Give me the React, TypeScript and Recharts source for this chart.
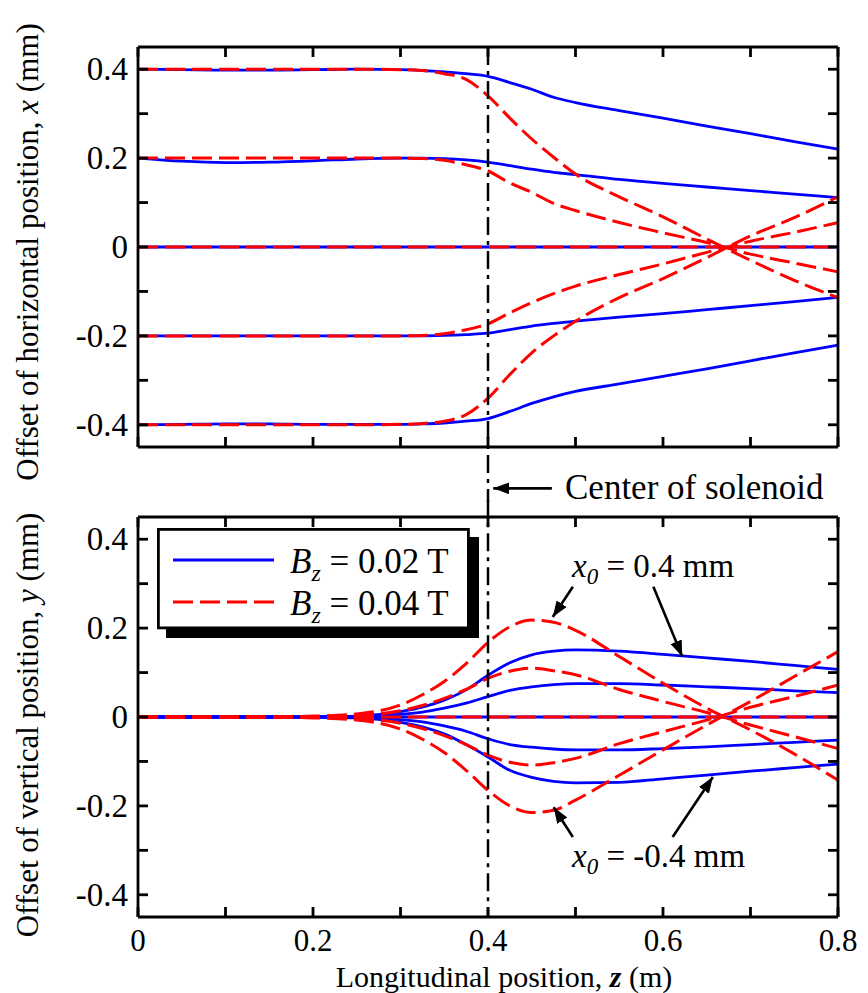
import React from 'react';
import { LineChart, Line, XAxis, YAxis, ReferenceLine, ReferenceDot, Legend } from 'recharts';

// Longitudinal position z (m)
const zPos = [0, 0.05, 0.1, 0.15, 0.2, 0.25, 0.3, 0.325, 0.35, 0.375, 0.4, 0.425, 0.45, 0.475, 0.5, 0.55, 0.6, 0.65, 0.7, 0.75, 0.8];

// Top panel: horizontal offset x (mm), Bz = 0.02 T
const xB02_p04 = [0.4, 0.399, 0.398, 0.398, 0.399, 0.4, 0.399, 0.397, 0.394, 0.39, 0.384, 0.37, 0.355, 0.337, 0.325, 0.307, 0.29, 0.272, 0.255, 0.237, 0.22];
const xB02_p02 = [0.2, 0.193, 0.19, 0.191, 0.194, 0.198, 0.2, 0.2, 0.199, 0.196, 0.191, 0.183, 0.175, 0.168, 0.163, 0.152, 0.143, 0.135, 0.127, 0.119, 0.111];
const xB02_z0 = [0, 0, 0, 0, 0, 0, 0, 0, 0, 0, 0, 0, 0, 0, 0, 0, 0, 0, 0, 0, 0];
const xB02_m02 = [-0.2, -0.2, -0.2, -0.2, -0.2, -0.2, -0.2, -0.2, -0.199, -0.197, -0.194, -0.186, -0.178, -0.172, -0.167, -0.158, -0.15, -0.141, -0.132, -0.123, -0.113];
const xB02_m04 = [-0.4, -0.399, -0.398, -0.398, -0.399, -0.399, -0.399, -0.398, -0.396, -0.392, -0.386, -0.37, -0.352, -0.337, -0.325, -0.308, -0.291, -0.274, -0.256, -0.238, -0.221];

// Top panel: horizontal offset x (mm), Bz = 0.04 T
const xB04_p04 = [0.4, 0.4, 0.4, 0.4, 0.4, 0.4, 0.399, 0.397, 0.39, 0.377, 0.34, 0.29, 0.243, 0.202, 0.164, 0.113, 0.068, 0.018, -0.03, -0.075, -0.114];
const xB04_p02 = [0.2, 0.2, 0.2, 0.2, 0.2, 0.2, 0.2, 0.199, 0.195, 0.185, 0.171, 0.144, 0.123, 0.098, 0.082, 0.055, 0.032, 0.01, -0.016, -0.036, -0.056];
const xB04_z0 = [0, 0, 0, 0, 0, 0, 0, 0, 0, 0, 0, 0, 0, 0, 0, 0, 0, 0, 0, 0, 0];
const xB04_m02 = [-0.2, -0.2, -0.2, -0.2, -0.2, -0.2, -0.2, -0.199, -0.195, -0.186, -0.173, -0.148, -0.125, -0.105, -0.088, -0.062, -0.038, -0.012, 0.013, 0.033, 0.055];
const xB04_m04 = [-0.4, -0.4, -0.4, -0.4, -0.4, -0.4, -0.399, -0.397, -0.392, -0.377, -0.34, -0.287, -0.238, -0.2, -0.167, -0.114, -0.071, -0.024, 0.025, 0.066, 0.113];

// Bottom panel: vertical offset y (mm), Bz = 0.02 T
const yB02_p04 = [0, 0, 0, 0, 0.0005, 0.002, 0.012, 0.022, 0.038, 0.061, 0.094, 0.122, 0.14, 0.148, 0.151, 0.148, 0.141, 0.133, 0.125, 0.116, 0.107];
const yB02_p02 = [0, 0, 0, 0, 0.0003, 0.001, 0.006, 0.011, 0.02, 0.031, 0.046, 0.06, 0.068, 0.073, 0.075, 0.075, 0.072, 0.068, 0.064, 0.059, 0.055];
const yB02_z0 = [0, 0, 0, 0, 0, 0, 0, 0, 0, 0, 0, 0, 0, 0, 0, 0, 0, 0, 0, 0, 0];
const yB02_m02 = [0, 0, 0, 0, -0.0003, -0.001, -0.006, -0.011, -0.02, -0.032, -0.049, -0.062, -0.068, -0.072, -0.074, -0.074, -0.071, -0.067, -0.062, -0.057, -0.052];
const yB02_m04 = [0, 0, 0, 0, -0.0005, -0.002, -0.012, -0.022, -0.038, -0.062, -0.09, -0.12, -0.136, -0.145, -0.148, -0.147, -0.139, -0.131, -0.122, -0.114, -0.106];

// Bottom panel: vertical offset y (mm), Bz = 0.04 T
const yB04_p04 = [0, 0, 0, 0.0005, 0.002, 0.007, 0.027, 0.05, 0.08, 0.12, 0.168, 0.203, 0.218, 0.213, 0.195, 0.136, 0.076, 0.02, -0.029, -0.083, -0.142];
const yB04_p02 = [0, 0, 0, 0.0003, 0.001, 0.0035, 0.014, 0.026, 0.042, 0.062, 0.087, 0.103, 0.11, 0.104, 0.095, 0.062, 0.035, 0.01, -0.018, -0.044, -0.071];
const yB04_z0 = [0, 0, 0, 0, 0, 0, 0, 0, 0, 0, 0, 0, 0, 0, 0, 0, 0, 0, 0, 0, 0];
const yB04_m02 = [0, 0, 0, -0.0003, -0.001, -0.0035, -0.014, -0.026, -0.042, -0.062, -0.086, -0.102, -0.108, -0.103, -0.093, -0.06, -0.033, -0.007, 0.022, 0.046, 0.072];
const yB04_m04 = [0, 0, 0, -0.0005, -0.002, -0.007, -0.027, -0.05, -0.08, -0.12, -0.165, -0.2, -0.215, -0.21, -0.187, -0.131, -0.074, -0.018, 0.035, 0.091, 0.147];

// Ticks
const xTicks = [0, 0.1, 0.2, 0.3, 0.4, 0.5, 0.6, 0.7, 0.8];
const xTickLabels = ['0', '', '0.2', '', '0.4', '', '0.6', '', '0.8'];
const yTicks = [-0.4, -0.3, -0.2, -0.1, 0, 0.1, 0.2, 0.3, 0.4];
const yTickLabels = ['-0.4', '', '-0.2', '', '0', '', '0.2', '', '0.4'];
const yDomain = [-0.45, 0.45];
const solenoidCenter = 0.4;

// Legend entries
const legendFields = ['0.02', '0.04'];

// Annotations (data units)
const x0Labels = [
  { z: 0.496, v: 0.3155, text: '0.4' },
  { z: 0.496, v: -0.338, text: '-0.4' },
];
const x0Arrows = [
  { z1: 0.497, v1: 0.293, z2: 0.474, v2: 0.225 },
  { z1: 0.589, v1: 0.293, z2: 0.622, v2: 0.136 },
  { z1: 0.497, v1: -0.27, z2: 0.475, v2: -0.203 },
  { z1: 0.611, v1: -0.27, z2: 0.657, v2: -0.135 },
];

const keys = ['p04', 'p02', 'z0', 'm02', 'm04'];
const topBlue = [xB02_p04, xB02_p02, xB02_z0, xB02_m02, xB02_m04];
const topRed = [xB04_p04, xB04_p02, xB04_z0, xB04_m02, xB04_m04];
const botBlue = [yB02_p04, yB02_p02, yB02_z0, yB02_m02, yB02_m04];
const botRed = [yB04_p04, yB04_p02, yB04_z0, yB04_m02, yB04_m04];

const buildRows = (blue: number[][], red: number[][]) =>
  zPos.map((z, i) => {
    const row: any = { z };
    keys.forEach((k, j) => {
      row['b_' + k] = blue[j][i];
      row['r_' + k] = red[j][i];
    });
    return row;
  });

const topData = buildRows(topBlue, topRed);
const botData = buildRows(botBlue, botRed);

const FONT = "'Liberation Serif', 'Times New Roman', serif";
const BLUE = '#0000ff';
const RED = '#ff0000';
const DASH = '20 7';
const TICK = 10;
const AX = 2.8;

const idxOf = (arr: number[], v: number) => arr.findIndex((t) => Math.abs(t - v) < 1e-6);

const BottomTick = (p: any) => {
  const i = idxOf(xTicks, p.payload.value);
  const label = p.showLabels ? xTickLabels[i] : '';
  return (
    <g>
      <line x1={p.x} x2={p.x} y1={p.y} y2={p.y - TICK} stroke="#000" strokeWidth={AX} />
      {label ? (
        <text x={p.x} y={p.y + 34} textAnchor="middle" fontFamily={FONT} fontSize={31} fill="#000">
          {label}
        </text>
      ) : null}
    </g>
  );
};
const TopTick = (p: any) => (
  <line x1={p.x} x2={p.x} y1={p.y} y2={p.y + TICK} stroke="#000" strokeWidth={AX} />
);
const LeftTick = (p: any) => {
  const i = idxOf(yTicks, p.payload.value);
  const label = yTickLabels[i];
  return (
    <g>
      <line x1={p.x} x2={p.x + TICK} y1={p.y} y2={p.y} stroke="#000" strokeWidth={AX} />
      {label ? (
        <text x={p.x - 10} y={p.y} dy="0.34em" textAnchor="end" fontFamily={FONT} fontSize={33} fill="#000">
          {label}
        </text>
      ) : null}
    </g>
  );
};
const RightTick = (p: any) => (
  <line x1={p.x} x2={p.x - TICK} y1={p.y} y2={p.y} stroke="#000" strokeWidth={AX} />
);

const YTitle = (props: any) => (
  <text
    transform={`translate(38,${props.cyPos}) rotate(-90)`}
    textAnchor="middle"
    fontFamily={FONT}
    fontSize={31}
    fill="#000"
  >
    {props.lead}
    <tspan fontStyle="italic">{props.sym}</tspan>
    {' (mm)'}
  </text>
);

const XTitle = () => (
  <text x={504} y={487} textAnchor="middle" fontFamily={FONT} fontSize={30} fill="#000">
    {'Longitudinal position, '}
    <tspan fontStyle="italic" fontWeight="bold">z</tspan>
    {' (m)'}
  </text>
);

const ArrowShape = (p: any) => (
  <line x1={p.x1} y1={p.y1} x2={p.x2} y2={p.y2} stroke="#000" strokeWidth={2.6} markerEnd="url(#arrowHead)" />
);

const X0Text = (text: string) => (p: any) => (
  <text x={p.cx} y={p.cy} fontFamily={FONT} fontSize={33} fill="#000" style={{ whiteSpace: 'pre' }}>
    <tspan fontStyle="italic">x</tspan>
    <tspan fontStyle="italic" fontSize={23} dy={7}>0</tspan>
    <tspan dy={-7}>{` = ${text} mm`}</tspan>
  </text>
);

const SolenoidText = (p: any) => (
  <text x={p.cx} y={p.cy} fontFamily={FONT} fontSize={35} fill="#000">
    Center of solenoid
  </text>
);

const LegendBox = () => (
  <svg width={325} height={113} style={{ display: 'block' }}>
    <rect x={9} y={9} width={313} height={101} fill="#000" />
    <rect x={1.4} y={1.4} width={310} height={98.5} fill="#fff" stroke="#000" strokeWidth={2.8} />
    {legendFields.map((f, i) => {
      const ly = 32 + i * 42;
      return (
        <g key={f}>
          <line
            x1={16}
            x2={117}
            y1={ly}
            y2={ly}
            stroke={i === 0 ? BLUE : RED}
            strokeWidth={3}
            strokeDasharray={i === 0 ? undefined : DASH}
          />
          <text x={133} y={ly + 12.5} fontFamily={FONT} fontSize={35} fill="#000" style={{ whiteSpace: 'pre' }}>
            <tspan fontStyle="italic">B</tspan>
            <tspan fontStyle="italic" fontSize={24} dy={8}>z</tspan>
            <tspan dy={-8}>{` = ${f} T`}</tspan>
          </text>
        </g>
      );
    })}
  </svg>
);

const renderSeries = () => [
  ...keys.map((k) => (
    <Line
      key={'b_' + k}
      dataKey={'b_' + k}
      name="Bz = 0.02 T"
      type="monotone"
      stroke={BLUE}
      strokeWidth={2.8}
      dot={false}
      activeDot={false}
      isAnimationActive={false}
    />
  )),
  ...keys.map((k) => (
    <Line
      key={'r_' + k}
      dataKey={'r_' + k}
      name="Bz = 0.04 T"
      type="monotone"
      stroke={RED}
      strokeWidth={3}
      strokeDasharray={DASH}
      dot={false}
      activeDot={false}
      isAnimationActive={false}
    />
  )),
];

const axes = (showXLabels: boolean, yTitle: React.ReactElement, xTitle?: React.ReactElement) => [
  <XAxis
    key="xb"
    dataKey="z"
    type="number"
    domain={[0, 0.8]}
    ticks={xTicks}
    interval={0}
    height={1}
    tickSize={0}
    tickMargin={0}
    tickLine={false}
    axisLine={{ stroke: '#000', strokeWidth: AX }}
    tick={(p: any) => <BottomTick {...p} showLabels={showXLabels} />}
    label={xTitle}
  />,
  <XAxis
    key="xt"
    xAxisId="top"
    orientation="top"
    dataKey="z"
    type="number"
    domain={[0, 0.8]}
    ticks={xTicks}
    interval={0}
    height={1}
    tickSize={0}
    tickMargin={0}
    tickLine={false}
    axisLine={{ stroke: '#000', strokeWidth: AX }}
    tick={(p: any) => <TopTick {...p} />}
  />,
  <YAxis
    key="yl"
    type="number"
    domain={yDomain}
    ticks={yTicks}
    interval={0}
    width={1}
    tickSize={0}
    tickMargin={0}
    tickLine={false}
    allowDataOverflow
    axisLine={{ stroke: '#000', strokeWidth: AX }}
    tick={(p: any) => <LeftTick {...p} />}
    label={yTitle}
  />,
  <YAxis
    key="yr"
    yAxisId="right"
    orientation="right"
    type="number"
    domain={yDomain}
    ticks={yTicks}
    interval={0}
    width={1}
    tickSize={0}
    tickMargin={0}
    tickLine={false}
    allowDataOverflow
    axisLine={{ stroke: '#000', strokeWidth: AX }}
    tick={(p: any) => <RightTick {...p} />}
  />,
];

export default function App() {
  return (
    <div style={{ position: 'absolute', left: 0, top: 0, width: 868, height: 993, background: '#fff' }}>
      <svg width={0} height={0} style={{ position: 'absolute' }}>
        <defs>
          <marker
            id="arrowHead"
            viewBox="0 0 16 12"
            refX={16}
            refY={6}
            markerWidth={16}
            markerHeight={12}
            markerUnits="userSpaceOnUse"
            orient="auto"
          >
            <path d="M0,0 L16,6 L0,12 z" fill="#000" />
          </marker>
        </defs>
      </svg>
      <div style={{ position: 'absolute', left: 0, top: 0 }}>
        <LineChart width={868} height={512} data={topData} margin={{ top: 46, right: 29, bottom: 64, left: 137 }}>
          {axes(false, <YTitle cyPos={252} lead="Offset of horizontal position, " sym="x" />)}
          {renderSeries()}
          <ReferenceLine
            segment={[
              { x: solenoidCenter, y: 0.45 },
              { x: solenoidCenter, y: -0.573 },
            ]}
            ifOverflow="visible"
            stroke="#000"
            strokeWidth={2.5}
            strokeDasharray="18 6 4 6"
          />
          <ReferenceLine
            segment={[
              { x: 0.473, y: -0.543 },
              { x: 0.406, y: -0.543 },
            ]}
            ifOverflow="visible"
            shape={ArrowShape}
          />
          <ReferenceDot x={0.488} y={-0.568} r={0} ifOverflow="visible" shape={SolenoidText} />
        </LineChart>
      </div>
      <div style={{ position: 'absolute', left: 0, top: 500 }}>
        <LineChart width={868} height={493} data={botData} margin={{ top: 16, right: 29, bottom: 75, left: 137 }}>
          {axes(true, <YTitle cyPos={225} lead="Offset of vertical position, " sym="y" />, <XTitle />)}
          {renderSeries()}
          <ReferenceLine
            segment={[
              { x: solenoidCenter, y: 0.49 },
              { x: solenoidCenter, y: -0.45 },
            ]}
            ifOverflow="visible"
            stroke="#000"
            strokeWidth={2.5}
            strokeDasharray="18 6 4 6"
          />
          {x0Arrows.map((a, i) => (
            <ReferenceLine
              key={'arr' + i}
              segment={[
                { x: a.z1, y: a.v1 },
                { x: a.z2, y: a.v2 },
              ]}
              ifOverflow="visible"
              shape={ArrowShape}
            />
          ))}
          {x0Labels.map((l, i) => (
            <ReferenceDot key={'lab' + i} x={l.z} y={l.v} r={0} ifOverflow="visible" shape={X0Text(l.text)} />
          ))}
          <Legend
            layout="vertical"
            align="center"
            verticalAlign="middle"
            wrapperStyle={{ left: 157, top: 28 }}
            content={() => <LegendBox />}
          />
        </LineChart>
      </div>
    </div>
  );
}
